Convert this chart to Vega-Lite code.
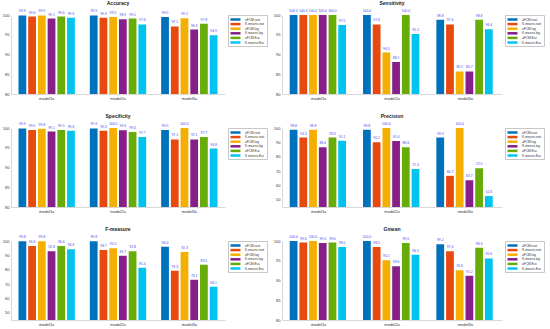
{
  "$schema": "https://vega.github.io/schema/vega-lite/v6.json",
  "padding": {"left": 2, "top": 1, "right": 2, "bottom": 0},
  "background": "white",
  "datasets": {
    "d": [
      {"metric": "Accuracy", "model": "model1a", "method": "aFCM.root", "value": 99.9},
      {"metric": "Accuracy", "model": "model1a", "method": "K-means.root", "value": 99.6},
      {"metric": "Accuracy", "model": "model1a", "method": "aFCM.log", "value": 99.9},
      {"metric": "Accuracy", "model": "model1a", "method": "K-means.log", "value": 99.1},
      {"metric": "Accuracy", "model": "model1a", "method": "aFCM.Euc", "value": 99.6},
      {"metric": "Accuracy", "model": "model1a", "method": "K-means.Euc", "value": 99.3},
      {"metric": "Accuracy", "model": "model2a", "method": "aFCM.root", "value": 99.9},
      {"metric": "Accuracy", "model": "model2a", "method": "K-means.root", "value": 99.3},
      {"metric": "Accuracy", "model": "model2a", "method": "aFCM.log", "value": 99.5},
      {"metric": "Accuracy", "model": "model2a", "method": "K-means.log", "value": 98.9},
      {"metric": "Accuracy", "model": "model2a", "method": "aFCM.Euc", "value": 99.1},
      {"metric": "Accuracy", "model": "model2a", "method": "K-means.Euc", "value": 97.6},
      {"metric": "Accuracy", "model": "model3a", "method": "aFCM.root", "value": 99.5},
      {"metric": "Accuracy", "model": "model3a", "method": "K-means.root", "value": 97.1},
      {"metric": "Accuracy", "model": "model3a", "method": "aFCM.log", "value": 99.2},
      {"metric": "Accuracy", "model": "model3a", "method": "K-means.log", "value": 96.3},
      {"metric": "Accuracy", "model": "model3a", "method": "aFCM.Euc", "value": 97.8},
      {"metric": "Accuracy", "model": "model3a", "method": "K-means.Euc", "value": 94.9},

      {"metric": "Sensitivity", "model": "model1a", "method": "aFCM.root", "value": 100},
      {"metric": "Sensitivity", "model": "model1a", "method": "K-means.root", "value": 100},
      {"metric": "Sensitivity", "model": "model1a", "method": "aFCM.log", "value": 100},
      {"metric": "Sensitivity", "model": "model1a", "method": "K-means.log", "value": 100},
      {"metric": "Sensitivity", "model": "model1a", "method": "aFCM.Euc", "value": 100},
      {"metric": "Sensitivity", "model": "model1a", "method": "K-means.Euc", "value": 97.5},
      {"metric": "Sensitivity", "model": "model2a", "method": "aFCM.root", "value": 100},
      {"metric": "Sensitivity", "model": "model2a", "method": "K-means.root", "value": 97.6},
      {"metric": "Sensitivity", "model": "model2a", "method": "aFCM.log", "value": 90.5},
      {"metric": "Sensitivity", "model": "model2a", "method": "K-means.log", "value": 88.1},
      {"metric": "Sensitivity", "model": "model2a", "method": "aFCM.Euc", "value": 100},
      {"metric": "Sensitivity", "model": "model2a", "method": "K-means.Euc", "value": 95.2},
      {"metric": "Sensitivity", "model": "model3a", "method": "aFCM.root", "value": 98.8},
      {"metric": "Sensitivity", "model": "model3a", "method": "K-means.root", "value": 97.6},
      {"metric": "Sensitivity", "model": "model3a", "method": "aFCM.log", "value": 85.7},
      {"metric": "Sensitivity", "model": "model3a", "method": "K-means.log", "value": 85.7},
      {"metric": "Sensitivity", "model": "model3a", "method": "aFCM.Euc", "value": 98.8},
      {"metric": "Sensitivity", "model": "model3a", "method": "K-means.Euc", "value": 96.4},

      {"metric": "Specificity", "model": "model1a", "method": "aFCM.root", "value": 99.9},
      {"metric": "Specificity", "model": "model1a", "method": "K-means.root", "value": 99.5},
      {"metric": "Specificity", "model": "model1a", "method": "aFCM.log", "value": 99.8},
      {"metric": "Specificity", "model": "model1a", "method": "K-means.log", "value": 99.1},
      {"metric": "Specificity", "model": "model1a", "method": "aFCM.Euc", "value": 99.5},
      {"metric": "Specificity", "model": "model1a", "method": "K-means.Euc", "value": 99.3},
      {"metric": "Specificity", "model": "model2a", "method": "aFCM.root", "value": 99.9},
      {"metric": "Specificity", "model": "model2a", "method": "K-means.root", "value": 99.3},
      {"metric": "Specificity", "model": "model2a", "method": "aFCM.log", "value": 100},
      {"metric": "Specificity", "model": "model2a", "method": "K-means.log", "value": 99.4},
      {"metric": "Specificity", "model": "model2a", "method": "aFCM.Euc", "value": 99.0},
      {"metric": "Specificity", "model": "model2a", "method": "K-means.Euc", "value": 97.7},
      {"metric": "Specificity", "model": "model3a", "method": "aFCM.root", "value": 99.5},
      {"metric": "Specificity", "model": "model3a", "method": "K-means.root", "value": 97.1},
      {"metric": "Specificity", "model": "model3a", "method": "aFCM.log", "value": 100},
      {"metric": "Specificity", "model": "model3a", "method": "K-means.log", "value": 97.1},
      {"metric": "Specificity", "model": "model3a", "method": "aFCM.Euc", "value": 97.7},
      {"metric": "Specificity", "model": "model3a", "method": "K-means.Euc", "value": 94.8},

      {"metric": "Precision", "model": "model1a", "method": "aFCM.root", "value": 98.8},
      {"metric": "Precision", "model": "model1a", "method": "K-means.root", "value": 93.3},
      {"metric": "Precision", "model": "model1a", "method": "aFCM.log", "value": 98.8},
      {"metric": "Precision", "model": "model1a", "method": "K-means.log", "value": 86.6},
      {"metric": "Precision", "model": "model1a", "method": "aFCM.Euc", "value": 93.3},
      {"metric": "Precision", "model": "model1a", "method": "K-means.Euc", "value": 91.1},
      {"metric": "Precision", "model": "model2a", "method": "aFCM.root", "value": 98.8},
      {"metric": "Precision", "model": "model2a", "method": "K-means.root", "value": 90.1},
      {"metric": "Precision", "model": "model2a", "method": "aFCM.log", "value": 100},
      {"metric": "Precision", "model": "model2a", "method": "K-means.log", "value": 91.0},
      {"metric": "Precision", "model": "model2a", "method": "aFCM.Euc", "value": 86.6},
      {"metric": "Precision", "model": "model2a", "method": "K-means.Euc", "value": 71.4},
      {"metric": "Precision", "model": "model3a", "method": "aFCM.root", "value": 93.3},
      {"metric": "Precision", "model": "model3a", "method": "K-means.root", "value": 66.7},
      {"metric": "Precision", "model": "model3a", "method": "aFCM.log", "value": 100},
      {"metric": "Precision", "model": "model3a", "method": "K-means.log", "value": 63.7},
      {"metric": "Precision", "model": "model3a", "method": "aFCM.Euc", "value": 72.0},
      {"metric": "Precision", "model": "model3a", "method": "K-means.Euc", "value": 52.6},

      {"metric": "F-measure", "model": "model1a", "method": "aFCM.root", "value": 99.8},
      {"metric": "F-measure", "model": "model1a", "method": "K-means.root", "value": 96.6},
      {"metric": "F-measure", "model": "model1a", "method": "aFCM.log", "value": 99.8},
      {"metric": "F-measure", "model": "model1a", "method": "K-means.log", "value": 92.8},
      {"metric": "F-measure", "model": "model1a", "method": "aFCM.Euc", "value": 96.6},
      {"metric": "F-measure", "model": "model1a", "method": "K-means.Euc", "value": 94.3},
      {"metric": "F-measure", "model": "model2a", "method": "aFCM.root", "value": 99.8},
      {"metric": "F-measure", "model": "model2a", "method": "K-means.root", "value": 93.7},
      {"metric": "F-measure", "model": "model2a", "method": "aFCM.log", "value": 95.0},
      {"metric": "F-measure", "model": "model2a", "method": "K-means.log", "value": 89.7},
      {"metric": "F-measure", "model": "model2a", "method": "aFCM.Euc", "value": 92.8},
      {"metric": "F-measure", "model": "model2a", "method": "K-means.Euc", "value": 81.4},
      {"metric": "F-measure", "model": "model3a", "method": "aFCM.root", "value": 96.0},
      {"metric": "F-measure", "model": "model3a", "method": "K-means.root", "value": 79.3},
      {"metric": "F-measure", "model": "model3a", "method": "aFCM.log", "value": 92.3},
      {"metric": "F-measure", "model": "model3a", "method": "K-means.log", "value": 73.1},
      {"metric": "F-measure", "model": "model3a", "method": "aFCM.Euc", "value": 83.5},
      {"metric": "F-measure", "model": "model3a", "method": "K-means.Euc", "value": 68.1},

      {"metric": "Gmean", "model": "model1a", "method": "aFCM.root", "value": 100},
      {"metric": "Gmean", "model": "model1a", "method": "K-means.root", "value": 99.6},
      {"metric": "Gmean", "model": "model1a", "method": "aFCM.log", "value": 100},
      {"metric": "Gmean", "model": "model1a", "method": "K-means.log", "value": 99.5},
      {"metric": "Gmean", "model": "model1a", "method": "aFCM.Euc", "value": 99.6},
      {"metric": "Gmean", "model": "model1a", "method": "K-means.Euc", "value": 98.5},
      {"metric": "Gmean", "model": "model2a", "method": "aFCM.root", "value": 100},
      {"metric": "Gmean", "model": "model2a", "method": "K-means.root", "value": 98.5},
      {"metric": "Gmean", "model": "model2a", "method": "aFCM.log", "value": 95.1},
      {"metric": "Gmean", "model": "model2a", "method": "K-means.log", "value": 93.6},
      {"metric": "Gmean", "model": "model2a", "method": "aFCM.Euc", "value": 99.5},
      {"metric": "Gmean", "model": "model2a", "method": "K-means.Euc", "value": 96.5},
      {"metric": "Gmean", "model": "model3a", "method": "aFCM.root", "value": 99.2},
      {"metric": "Gmean", "model": "model3a", "method": "K-means.root", "value": 97.4},
      {"metric": "Gmean", "model": "model3a", "method": "aFCM.log", "value": 92.6},
      {"metric": "Gmean", "model": "model3a", "method": "K-means.log", "value": 91.2},
      {"metric": "Gmean", "model": "model3a", "method": "aFCM.Euc", "value": 98.3},
      {"metric": "Gmean", "model": "model3a", "method": "K-means.Euc", "value": 95.6}
    ]
  },
  "vconcat": [
    {
      "hconcat": [
        {
          "title": "Accuracy", "width": 214, "height": 79,
          "data": {"name": "d"},
          "transform": [{"filter": "datum.metric === 'Accuracy'"}],
          "encoding": {
            "x": {"field": "model", "type": "nominal", "scale": {"paddingInner": 0.21, "paddingOuter": 0.105}},
            "xOffset": {"field": "method", "type": "nominal", "sort": ["aFCM.root", "K-means.root", "aFCM.log", "K-means.log", "aFCM.Euc", "K-means.Euc"], "scale": {"paddingInner": 0.2, "paddingOuter": 0}},
            "y": {"field": "value", "type": "quantitative", "scale": {"domain": [80, 100], "nice": false, "zero": false}, "axis": {"values": [80, 85, 90, 95, 100]}}
          },
          "layer": [
            {"mark": {"type": "bar", "clip": true}, "encoding": {"color": {"field": "method", "type": "nominal", "title": null, "scale": {"domain": ["aFCM.root", "K-means.root", "aFCM.log", "K-means.log", "aFCM.Euc", "K-means.Euc"], "range": ["#0072BD", "#E8490F", "#F5AF00", "#862088", "#68AC0A", "#00C3F0"]}}}},
            {"mark": {"type": "text", "dy": -2, "baseline": "bottom", "fontSize": 3.4, "color": "#4646f0"}, "encoding": {"text": {"field": "value", "type": "quantitative", "format": ".1f"}}}
          ]
        },
        {
          "title": "Sensitivity", "width": 220, "height": 79,
          "data": {"name": "d"},
          "transform": [{"filter": "datum.metric === 'Sensitivity'"}],
          "encoding": {
            "x": {"field": "model", "type": "nominal", "scale": {"paddingInner": 0.21, "paddingOuter": 0.105}},
            "xOffset": {"field": "method", "type": "nominal", "sort": ["aFCM.root", "K-means.root", "aFCM.log", "K-means.log", "aFCM.Euc", "K-means.Euc"], "scale": {"paddingInner": 0.2, "paddingOuter": 0}},
            "y": {"field": "value", "type": "quantitative", "scale": {"domain": [80, 100], "nice": false, "zero": false}, "axis": {"values": [80, 85, 90, 95, 100]}}
          },
          "layer": [
            {"mark": {"type": "bar", "clip": true}, "encoding": {"color": {"field": "method", "type": "nominal", "title": null, "scale": {"domain": ["aFCM.root", "K-means.root", "aFCM.log", "K-means.log", "aFCM.Euc", "K-means.Euc"], "range": ["#0072BD", "#E8490F", "#F5AF00", "#862088", "#68AC0A", "#00C3F0"]}}}},
            {"mark": {"type": "text", "dy": -2, "baseline": "bottom", "fontSize": 3.4, "color": "#4646f0"}, "encoding": {"text": {"field": "value", "type": "quantitative", "format": ".1f"}}}
          ]
        }
      ],
      "spacing": 5,
      "resolve": {"legend": {"color": "independent"}, "scale": {"color": "independent"}}
    },
    {
      "hconcat": [
        {
          "title": "Specificity", "width": 214, "height": 79,
          "data": {"name": "d"},
          "transform": [{"filter": "datum.metric === 'Specificity'"}],
          "encoding": {
            "x": {"field": "model", "type": "nominal", "scale": {"paddingInner": 0.21, "paddingOuter": 0.105}},
            "xOffset": {"field": "method", "type": "nominal", "sort": ["aFCM.root", "K-means.root", "aFCM.log", "K-means.log", "aFCM.Euc", "K-means.Euc"], "scale": {"paddingInner": 0.2, "paddingOuter": 0}},
            "y": {"field": "value", "type": "quantitative", "scale": {"domain": [80, 100], "nice": false, "zero": false}, "axis": {"values": [80, 85, 90, 95, 100]}}
          },
          "layer": [
            {"mark": {"type": "bar", "clip": true}, "encoding": {"color": {"field": "method", "type": "nominal", "title": null, "scale": {"domain": ["aFCM.root", "K-means.root", "aFCM.log", "K-means.log", "aFCM.Euc", "K-means.Euc"], "range": ["#0072BD", "#E8490F", "#F5AF00", "#862088", "#68AC0A", "#00C3F0"]}}}},
            {"mark": {"type": "text", "dy": -2, "baseline": "bottom", "fontSize": 3.4, "color": "#4646f0"}, "encoding": {"text": {"field": "value", "type": "quantitative", "format": ".1f"}}}
          ]
        },
        {
          "title": "Precision", "width": 220, "height": 79,
          "data": {"name": "d"},
          "transform": [{"filter": "datum.metric === 'Precision'"}],
          "encoding": {
            "x": {"field": "model", "type": "nominal", "scale": {"paddingInner": 0.21, "paddingOuter": 0.105}},
            "xOffset": {"field": "method", "type": "nominal", "sort": ["aFCM.root", "K-means.root", "aFCM.log", "K-means.log", "aFCM.Euc", "K-means.Euc"], "scale": {"paddingInner": 0.2, "paddingOuter": 0}},
            "y": {"field": "value", "type": "quantitative", "scale": {"domain": [45, 100], "nice": false, "zero": false}, "axis": {"values": [50, 60, 70, 80, 90, 100]}}
          },
          "layer": [
            {"mark": {"type": "bar", "clip": true}, "encoding": {"color": {"field": "method", "type": "nominal", "title": null, "scale": {"domain": ["aFCM.root", "K-means.root", "aFCM.log", "K-means.log", "aFCM.Euc", "K-means.Euc"], "range": ["#0072BD", "#E8490F", "#F5AF00", "#862088", "#68AC0A", "#00C3F0"]}}}},
            {"mark": {"type": "text", "dy": -2, "baseline": "bottom", "fontSize": 3.4, "color": "#4646f0"}, "encoding": {"text": {"field": "value", "type": "quantitative", "format": ".1f"}}}
          ]
        }
      ],
      "spacing": 5,
      "resolve": {"legend": {"color": "independent"}, "scale": {"color": "independent"}}
    },
    {
      "hconcat": [
        {
          "title": "F-measure", "width": 214, "height": 79,
          "data": {"name": "d"},
          "transform": [{"filter": "datum.metric === 'F-measure'"}],
          "encoding": {
            "x": {"field": "model", "type": "nominal", "scale": {"paddingInner": 0.21, "paddingOuter": 0.105}},
            "xOffset": {"field": "method", "type": "nominal", "sort": ["aFCM.root", "K-means.root", "aFCM.log", "K-means.log", "aFCM.Euc", "K-means.Euc"], "scale": {"paddingInner": 0.2, "paddingOuter": 0}},
            "y": {"field": "value", "type": "quantitative", "scale": {"domain": [45, 100], "nice": false, "zero": false}, "axis": {"values": [50, 60, 70, 80, 90, 100]}}
          },
          "layer": [
            {"mark": {"type": "bar", "clip": true}, "encoding": {"color": {"field": "method", "type": "nominal", "title": null, "scale": {"domain": ["aFCM.root", "K-means.root", "aFCM.log", "K-means.log", "aFCM.Euc", "K-means.Euc"], "range": ["#0072BD", "#E8490F", "#F5AF00", "#862088", "#68AC0A", "#00C3F0"]}}}},
            {"mark": {"type": "text", "dy": -2, "baseline": "bottom", "fontSize": 3.4, "color": "#4646f0"}, "encoding": {"text": {"field": "value", "type": "quantitative", "format": ".1f"}}}
          ]
        },
        {
          "title": "Gmean", "width": 220, "height": 79,
          "data": {"name": "d"},
          "transform": [{"filter": "datum.metric === 'Gmean'"}],
          "encoding": {
            "x": {"field": "model", "type": "nominal", "scale": {"paddingInner": 0.21, "paddingOuter": 0.105}},
            "xOffset": {"field": "method", "type": "nominal", "sort": ["aFCM.root", "K-means.root", "aFCM.log", "K-means.log", "aFCM.Euc", "K-means.Euc"], "scale": {"paddingInner": 0.2, "paddingOuter": 0}},
            "y": {"field": "value", "type": "quantitative", "scale": {"domain": [80, 100], "nice": false, "zero": false}, "axis": {"values": [80, 85, 90, 95, 100]}}
          },
          "layer": [
            {"mark": {"type": "bar", "clip": true}, "encoding": {"color": {"field": "method", "type": "nominal", "title": null, "scale": {"domain": ["aFCM.root", "K-means.root", "aFCM.log", "K-means.log", "aFCM.Euc", "K-means.Euc"], "range": ["#0072BD", "#E8490F", "#F5AF00", "#862088", "#68AC0A", "#00C3F0"]}}}},
            {"mark": {"type": "text", "dy": -2, "baseline": "bottom", "fontSize": 3.4, "color": "#4646f0"}, "encoding": {"text": {"field": "value", "type": "quantitative", "format": ".1f"}}}
          ]
        }
      ],
      "spacing": 5,
      "resolve": {"legend": {"color": "independent"}, "scale": {"color": "independent"}}
    }
  ],
  "spacing": 14,
  "resolve": {"legend": {"color": "independent"}, "scale": {"color": "independent"}},
  "config": {
    "font": "Liberation Sans",
    "view": {"stroke": null},
    "title": {"fontSize": 5, "fontWeight": "bold", "color": "#222", "offset": 3, "frame": "group", "anchor": "middle"},
    "axis": {"title": null, "grid": false, "labelFontSize": 4, "labelColor": "#333", "domainColor": "#d8d8d8", "tickColor": "#d8d8d8", "tickSize": 2, "labelPadding": 2},
    "axisX": {"labelAngle": 0, "ticks": false, "labelPadding": 2},
    "axisY": {"ticks": false},
    "legend": {"orient": "right", "offset": 3, "labelFontSize": 3.2, "labelColor": "#333", "symbolType": "M-2,-0.5H2V0.5H-2Z", "symbolSize": 25, "symbolStrokeWidth": 0, "rowPadding": 0.6, "strokeColor": "#c8c8c8", "padding": 2, "labelOffset": 7, "labelLimit": 60, "symbolOffset": 3}
  }
}
